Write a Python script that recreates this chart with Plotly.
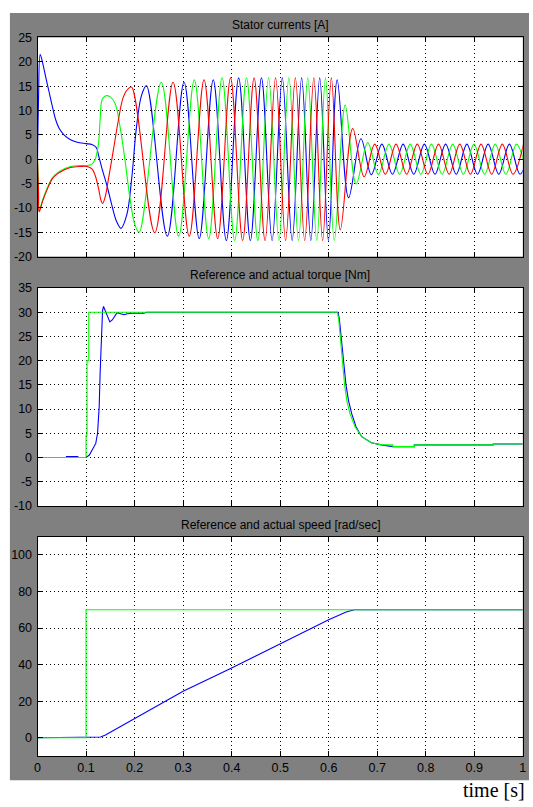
import plotly.graph_objects as go

# ---------------- data ----------------
# Stator currents [A]  (initial transient points + extrema of each phase)
ia_t = [0, 0.002, 0.0054, 0.0102, 0.017, 0.0238, 0.0306, 0.0374, 0.0442, 0.0544, 0.068, 0.0816,
        0.1, 0.112, 0.121, 0.126, 0.133, 0.143, 0.153, 0.163, 0.172, 0.184, 0.194, 0.204, 0.2143,
        0.2245, 0.2674, 0.3019, 0.3332, 0.3621, 0.3891, 0.4145, 0.4386, 0.4615, 0.4834, 0.5044,
        0.5247, 0.5443, 0.5632, 0.5815, 0.5995, 0.6175, 0.641, 0.6665, 0.688, 0.7096, 0.7315,
        0.7534, 0.7753, 0.7972, 0.8191, 0.841, 0.8629, 0.8848, 0.9067, 0.9286, 0.9505, 0.9724,
        0.9943, 1.0162]
ia_v = [0, 12, 21.5, 19.9, 16.8, 13.8, 10.8, 8.1, 6.4, 5.0, 4.0, 3.5,
        3.2, 3.0, 2.4, 0.7, -2.0, -5.4, -9.4, -12.8, -14.2, -11.4, -4.0, 6.7, 13.1,
        15.1, -15.8, 15.8, -16.3, 16.3, -16.7, 16.7, -16.7, 16.7, -16.7, 16.7,
        -16.7, 16.7, -16.7, 16.7, -16.7, 16.3, -7.9, 4.2, -3.2, 3.1, -3.1,
        3.1, -3.1, 3.1, -3.1, 3.1, -3.1, 3.1, -3.1, 3.1, -3.1, 3.1,
        -3.1, 3.1]

ib_t = [0, 0.002, 0.0034, 0.0102, 0.0204, 0.0306, 0.0408, 0.0544, 0.068, 0.088, 0.102, 0.112,
        0.119, 0.1224, 0.1259, 0.1293, 0.1327, 0.1395, 0.1497, 0.16, 0.17, 0.18, 0.1905, 0.2007,
        0.2095, 0.255, 0.2908, 0.3231, 0.3527, 0.3803, 0.4062, 0.4307, 0.454, 0.4762, 0.4975,
        0.518, 0.5378, 0.5569, 0.5755, 0.5935, 0.6115, 0.634, 0.6565, 0.6805, 0.7023, 0.7242,
        0.7461, 0.768, 0.7899, 0.8118, 0.8337, 0.8556, 0.8775, 0.8994, 0.9213, 0.9432, 0.9651,
        0.987, 1.0089]
ib_v = [0, -6, -10.6, -8.4, -5.8, -3.8, -2.8, -2.0, -1.5, -1.3, -1.3, -1.0,
        0, 1.3, 3.4, 8.7, 12.1, 13.0, 12.8, 11.4, 6.7, 0, -8.0, -13.5,
        -15.0, 15.8, -15.8, 16.3, -16.3, 16.7, -16.7, 16.7, -16.7, 16.7, -16.7,
        16.7, -16.7, 16.7, -16.7, 16.7, -16.7, 11.1, -5.1, 3.4, -3.1, 3.1,
        -3.1, 3.1, -3.1, 3.1, -3.1, 3.1, -3.1, 3.1, -3.1, 3.1, -3.1,
        3.1, -3.1]

ic_t = [0, 0.002, 0.0034, 0.0102, 0.0204, 0.0306, 0.0408, 0.0544, 0.068, 0.088, 0.102, 0.1122,
        0.119, 0.1259, 0.1306, 0.134, 0.1395, 0.1463, 0.1565, 0.1667, 0.1769, 0.1871, 0.1939,
        0.2415, 0.2793, 0.3126, 0.3431, 0.3713, 0.3978, 0.4227, 0.4463, 0.4689, 0.4905, 0.5113,
        0.5313, 0.5506, 0.5694, 0.5875, 0.6055, 0.624, 0.6495, 0.673, 0.695, 0.7169, 0.7388,
        0.7607, 0.7826, 0.8045, 0.8264, 0.8483, 0.8702, 0.8921, 0.914, 0.9359, 0.9578, 0.9797,
        1.0016]
ic_v = [0, -7, -10.8, -8.7, -6.1, -4.0, -3.0, -2.2, -1.7, -1.5, -1.5, -2.0,
        -3.4, -6.1, -8.4, -9.1, -7.7, -4.0, 2.0, 8.1, 12.8, 14.5, 14.8,
        -15.1, 15.8, -15.8, 16.3, -16.3, 16.7, -16.7, 16.7, -16.7, 16.7, -16.7,
        16.7, -16.7, 16.7, -16.7, 16.7, -14.5, 6.3, -3.6, 3.1, -3.1, 3.1,
        -3.1, 3.1, -3.1, 3.1, -3.1, 3.1, -3.1, 3.1, -3.1, 3.1, -3.1,
        3.1]

# Reference and actual torque [Nm]
te_t = [0, 0.059, 0.0595, 0.083, 0.0835, 0.1, 0.1068, 0.1136, 0.12, 0.1237, 0.127, 0.129, 0.131,
        0.134, 0.136, 0.141, 0.145, 0.149, 0.154, 0.16, 0.164, 0.171, 0.178, 0.185, 0.195, 0.219,
        0.225, 0.6192, 0.6219, 0.626, 0.63, 0.6355, 0.641, 0.6476, 0.6565, 0.668, 0.688, 0.7086,
        0.7323, 0.7764, 0.7764, 0.939, 0.939, 1.0]
te_v = [0, 0, 0.2, 0.2, 0, 0, 0.5, 1.6, 2.9, 5.0, 10.4, 17.5, 24.7,
        30.4, 31.2, 30.0, 28.7, 28.0, 28.4, 29.4, 29.9, 29.7, 29.5, 29.7, 29.8, 29.8,
        30.0, 30.0, 28.7, 24.6, 19.9, 15.1, 11.7, 9.0, 6.3, 4.3, 3.05, 2.6,
        2.25, 2.25, 2.6, 2.6, 2.8, 2.8]
tref_t = [0, 0.1, 0.1, 0.102, 0.102, 0.1055, 0.1055, 0.6178, 0.6205, 0.624, 0.6273, 0.6327,
          0.6375, 0.644, 0.6545, 0.668, 0.688, 0.7086, 0.7323, 0.7323, 0.7764, 0.7764, 0.939,
          0.939, 1.0]
tref_v = [0, 0, 4.6, 4.6, 20, 20, 30, 30, 28.7, 24.6, 19.9, 15.1,
          11.7, 9.0, 6.3, 4.3, 3.05, 2.6, 2.6, 2.25, 2.25, 2.6, 2.6,
          2.8, 2.8]

# Reference and actual speed [rad/sec]
w_t = [0, 0.122, 0.13, 0.14, 0.15, 0.16, 0.173, 0.2, 0.3, 0.4, 0.5, 0.6, 0.636, 0.645, 0.653, 1.0]
w_v = [0, 0, 0.4, 1.5, 3.0, 4.5, 6.6, 10.7, 25.4, 38.2, 51.6, 64.6, 68.8, 69.6, 70.0, 70.0]
wref_t = [0, 0.1, 0.1, 1.0]
wref_v = [0, 0, 70, 70]

# Tick labels
x_ticks = [0, 0.1, 0.2, 0.3, 0.4, 0.5, 0.6, 0.7, 0.8, 0.9, 1]
x_labels = ["0", "0.1", "0.2", "0.3", "0.4", "0.5", "0.6", "0.7", "0.8", "0.9", "1"]
y1_ticks = [-20, -15, -10, -5, 0, 5, 10, 15, 20, 25]
y1_labels = ["-20", "-15", "-10", "-5", "0", "5", "10", "15", "20", "25"]
y2_ticks = [-10, -5, 0, 5, 10, 15, 20, 25, 30, 35]
y2_labels = ["-10", "-5", "0", "5", "10", "15", "20", "25", "30", "35"]
y3_ticks = [0, 20, 40, 60, 80, 100]
y3_labels = ["0", "20", "40", "60", "80", "100"]

titles = ["Stator currents [A]", "Reference and actual torque [Nm]",
          "Reference and actual speed [rad/sec]"]

# ---------------- figure ----------------
W, H = 533, 807
BLUE, GREEN, RED = "rgb(0,0,255)", "rgb(0,255,0)", "rgb(255,0,0)"

def px_x(x):
    return x / W

def px_y(y):
    return (H - y) / H

xdom = [px_x(35), px_x(526.7)]
ydoms = [[px_y(254), px_y(31)], [px_y(507.7), px_y(286)], [px_y(762.3), px_y(539)]]

fig = go.Figure()
lw = 1.1
fig.add_trace(go.Scatter(x=ia_t, y=ia_v, mode="lines", line=dict(color=BLUE, width=lw, shape="spline", smoothing=1.0), xaxis="x", yaxis="y"))
fig.add_trace(go.Scatter(x=ib_t, y=ib_v, mode="lines", line=dict(color=GREEN, width=lw, shape="spline", smoothing=1.0), xaxis="x", yaxis="y"))
fig.add_trace(go.Scatter(x=ic_t, y=ic_v, mode="lines", line=dict(color=RED, width=lw, shape="spline", smoothing=1.0), xaxis="x", yaxis="y"))
fig.add_trace(go.Scatter(x=te_t, y=te_v, mode="lines", line=dict(color=BLUE, width=lw), xaxis="x2", yaxis="y2"))
fig.add_trace(go.Scatter(x=tref_t, y=tref_v, mode="lines", line=dict(color=GREEN, width=lw), xaxis="x2", yaxis="y2"))
fig.add_trace(go.Scatter(x=w_t, y=w_v, mode="lines", line=dict(color=BLUE, width=lw), xaxis="x3", yaxis="y3"))
fig.add_trace(go.Scatter(x=wref_t, y=wref_v, mode="lines", line=dict(color=GREEN, width=lw), xaxis="x3", yaxis="y3"))

tickfont = dict(family="Liberation Sans, Arial, sans-serif", size=12.5, color="black")
common = dict(showline=True, linecolor="black", linewidth=1, mirror="ticks",
              ticks="inside", ticklen=5, tickcolor="black", tickwidth=1,
              showgrid=True, gridcolor="black", gridwidth=1, griddash="1px,3px",
              zeroline=False, tickfont=tickfont, fixedrange=True)

layout = dict(width=W, height=H, autosize=False, showlegend=False,
              margin=dict(l=0, r=0, t=0, b=0, pad=0),
              paper_bgcolor="white", plot_bgcolor="rgba(0,0,0,0)")

xnames = ["xaxis", "xaxis2", "xaxis3"]
ynames = ["yaxis", "yaxis2", "yaxis3"]
yranges = [[-20, 25], [-10, 35], [-10, 110]]
yticks = [(y1_ticks, y1_labels), (y2_ticks, y2_labels), (y3_ticks, y3_labels)]
anchors = ["y", "y2", "y3"]
xanch = ["x", "x2", "x3"]
for i in range(3):
    layout[xnames[i]] = dict(common, domain=xdom, range=[0, 1], anchor=anchors[i],
                             tickmode="array", tickvals=x_ticks,
                             ticktext=x_labels if i == 2 else [""] * len(x_ticks))
    layout[ynames[i]] = dict(common, domain=ydoms[i], range=yranges[i], anchor=xanch[i],
                             tickmode="array", tickvals=yticks[i][0], ticktext=yticks[i][1],
                             ticklabelstandoff=2)

shapes = [dict(type="rect", xref="paper", yref="paper", x0=px_x(7), x1=1.0,
               y0=px_y(787), y1=px_y(6), fillcolor="rgb(128,128,128)",
               line=dict(width=0), layer="below")]
for d in ydoms:
    shapes.append(dict(type="rect", xref="paper", yref="paper", x0=xdom[0], x1=xdom[1],
                       y0=d[0], y1=d[1], fillcolor="white", line=dict(width=0), layer="below"))
layout["shapes"] = shapes

title_y = [18, 273, 527]
ann = []
for i in range(3):
    ann.append(dict(text=titles[i], xref="paper", yref="paper", x=(xdom[0] + xdom[1]) / 2,
                    y=px_y(title_y[i]), xanchor="center", yanchor="middle", showarrow=False,
                    font=dict(family="Liberation Sans, Arial, sans-serif", size=12, color="black")))
ann.append(dict(text="time [s]", xref="paper", yref="paper", x=px_x(531), y=px_y(797),
                xanchor="right", yanchor="middle", showarrow=False,
                font=dict(family="Liberation Serif, Times New Roman, serif", size=20, color="black")))
layout["annotations"] = ann

fig.update_layout(**layout)
fig.write_html("out.html", config={"displayModeBar": False},
               post_script="document.body.style.margin='0';document.body.style.overflow='hidden';")
